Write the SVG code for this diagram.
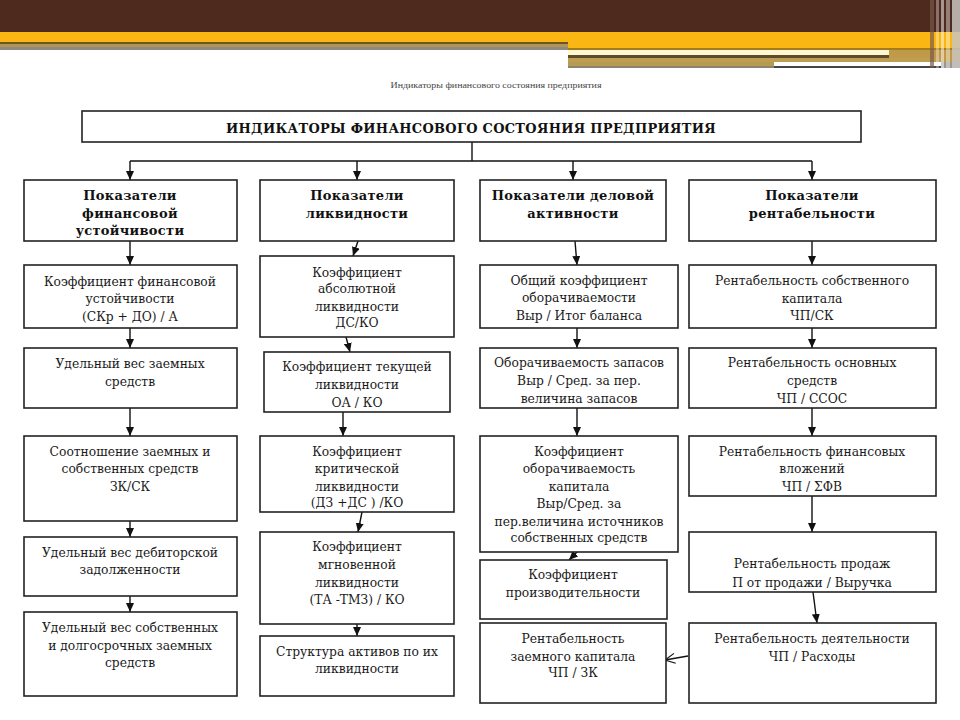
<svg xmlns="http://www.w3.org/2000/svg" width="960" height="720" viewBox="0 0 960 720">
<defs>
<marker id="ah" markerUnits="userSpaceOnUse" markerWidth="9" markerHeight="8" refX="9" refY="4" orient="auto">
<path d="M0,0 L9,4 L0,8 z" fill="#111"/>
</marker>
<marker id="av" markerUnits="userSpaceOnUse" markerWidth="12" markerHeight="12" refX="11" refY="6" orient="auto">
<path d="M1,1 L11,6 L1,11" fill="none" stroke="#111" stroke-width="1.2"/>
</marker>
<style>
.box{fill:#fff;stroke:#222;stroke-width:1.6}
.t{font-family:"DejaVu Serif","Liberation Serif",serif;font-size:12.3px;fill:#1a1a1a;text-anchor:middle}
.h{font-family:"DejaVu Serif","Liberation Serif",serif;font-size:13px;font-weight:bold;fill:#111;text-anchor:middle;letter-spacing:0.3px}
.c{stroke:#111;stroke-width:1.4;fill:none}
</style>
</defs>
<rect width="960" height="720" fill="#fff"/>
<g id="banner">
<rect x="0" y="0" width="960" height="33" fill="#4e291d"/>
<rect x="0" y="32" width="960" height="16" fill="#fab713"/>
<rect x="0" y="42" width="568" height="2" fill="#6b5820"/>
<rect x="0" y="44" width="568" height="3" fill="#b09458"/>
<rect x="0" y="47" width="568" height="3" fill="#8e8a7c"/>
<rect x="568" y="48" width="392" height="2" fill="#a47c1c"/>
<rect x="568" y="50" width="321" height="5" fill="#fff6d2"/>
<rect x="568" y="55" width="321" height="3" fill="#5e4c26"/>
<rect x="889" y="50" width="71" height="12" fill="#c09a48"/>
<rect x="568" y="58" width="373" height="4" fill="#bd9e52"/>
<rect x="568" y="62" width="206" height="5" fill="#b89a50"/>
<rect x="568" y="66" width="206" height="2" fill="#8a8572"/>
<rect x="774" y="62" width="167" height="4" fill="#ffffff"/>
<rect x="774" y="66" width="167" height="2" fill="#454545"/>
<rect x="941" y="62" width="19" height="6" fill="#9a9690"/>
<rect x="930" y="0" width="4" height="68" fill="#7a5a4a" opacity="0.7"/>
<rect x="936" y="0" width="3" height="68" fill="#ffffff" opacity="0.35"/>
<rect x="941" y="0" width="3" height="68" fill="#ffffff" opacity="0.5"/>
<rect x="946" y="0" width="4" height="68" fill="#ffffff" opacity="0.4"/>
<rect x="952" y="0" width="8" height="68" fill="#c8c4c0" opacity="0.85"/>
</g>
<text x="496" y="88" font-family="Liberation Serif, serif" font-size="9" fill="#444" text-anchor="middle" textLength="211" lengthAdjust="spacingAndGlyphs">Индикаторы финансового состояния предприятия</text>

<g id="connectors">
<line class="c" x1="472" y1="142" x2="472" y2="161"/>
<line class="c" x1="130" y1="161" x2="812" y2="161"/>
<line class="c" x1="130" y1="161" x2="130" y2="180" marker-end="url(#ah)"/>
<line class="c" x1="357" y1="161" x2="357" y2="180" marker-end="url(#ah)"/>
<line class="c" x1="573" y1="161" x2="573" y2="180" marker-end="url(#ah)"/>
<line class="c" x1="812" y1="161" x2="812" y2="180" marker-end="url(#ah)"/>
<!-- col1 -->
<line class="c" x1="130" y1="241" x2="130" y2="265" marker-end="url(#ah)"/>
<line class="c" x1="130" y1="328" x2="130" y2="348" marker-end="url(#ah)"/>
<line class="c" x1="130" y1="408" x2="130" y2="436" marker-end="url(#ah)"/>
<line class="c" x1="130" y1="521" x2="130" y2="537" marker-end="url(#ah)"/>
<line class="c" x1="130" y1="596" x2="130" y2="612" marker-end="url(#ah)"/>
<!-- col2 -->
<line class="c" x1="358" y1="241" x2="353" y2="256" marker-end="url(#ah)"/>
<line class="c" x1="346" y1="337" x2="350" y2="352" marker-end="url(#ah)"/>
<line class="c" x1="343" y1="412" x2="343" y2="436" marker-end="url(#ah)"/>
<line class="c" x1="362" y1="512" x2="358" y2="532" marker-end="url(#ah)"/>
<line class="c" x1="357" y1="624" x2="357" y2="636" marker-end="url(#ah)"/>
<!-- col3 -->
<line class="c" x1="575" y1="241" x2="577" y2="265" marker-end="url(#ah)"/>
<line class="c" x1="577" y1="328" x2="577" y2="348" marker-end="url(#ah)"/>
<line class="c" x1="577" y1="408" x2="577" y2="436" marker-end="url(#ah)"/>
<line class="c" x1="577" y1="552" x2="569" y2="560" marker-end="url(#ah)"/>
<line class="c" x1="688" y1="656" x2="665" y2="660" marker-end="url(#av)" stroke-width="1.1"/>
<!-- col4 -->
<line class="c" x1="812" y1="241" x2="812" y2="265" marker-end="url(#ah)"/>
<line class="c" x1="812" y1="328" x2="812" y2="348" marker-end="url(#ah)"/>
<line class="c" x1="812" y1="408" x2="812" y2="436" marker-end="url(#ah)"/>
<line class="c" x1="812" y1="496" x2="812" y2="532" marker-end="url(#ah)"/>
<line class="c" x1="813" y1="592" x2="817" y2="623" marker-end="url(#ah)"/>
</g>

<g id="root">
<rect class="box" x="82" y="111" width="779" height="31"/>
<text class="h" x="471" y="133" font-size="14" textLength="490" lengthAdjust="spacingAndGlyphs">ИНДИКАТОРЫ ФИНАНСОВОГО СОСТОЯНИЯ ПРЕДПРИЯТИЯ</text>
</g>

<g id="h-fin">
<rect class="box" x="24" y="180" width="213" height="61"/>
<text class="h" x="130" y="200">Показатели</text>
<text class="h" x="130" y="218">финансовой</text>
<text class="h" x="130" y="235">устойчивости</text>
</g>
<g id="h-liq">
<rect class="box" x="260" y="180" width="194" height="61"/>
<text class="h" x="357" y="200">Показатели</text>
<text class="h" x="357" y="218">ликвидности</text>
</g>
<g id="h-act">
<rect class="box" x="480" y="180" width="186" height="61"/>
<text class="h" x="573" y="200">Показатели деловой</text>
<text class="h" x="573" y="218">активности</text>
</g>
<g id="h-rent">
<rect class="box" x="689" y="180" width="247" height="61"/>
<text class="h" x="812" y="200">Показатели</text>
<text class="h" x="812" y="218">рентабельности</text>
</g>

<g id="f1">
<rect class="box" x="24" y="265" width="213" height="63"/>
<text class="t" x="130" y="286">Коэффициент финансовой</text>
<text class="t" x="130" y="303">устойчивости</text>
<text class="t" x="130" y="321">(СКр + ДО) / А</text>
</g>
<g id="f2">
<rect class="box" x="24" y="348" width="213" height="60"/>
<text class="t" x="130" y="368">Удельный вес заемных</text>
<text class="t" x="130" y="386">средств</text>
</g>
<g id="f3">
<rect class="box" x="24" y="436" width="213" height="85"/>
<text class="t" x="130" y="456">Соотношение заемных и</text>
<text class="t" x="130" y="473">собственных средств</text>
<text class="t" x="130" y="491">ЗК/СК</text>
</g>
<g id="f4">
<rect class="box" x="24" y="537" width="213" height="59"/>
<text class="t" x="130" y="557">Удельный вес дебиторской</text>
<text class="t" x="130" y="574">задолженности</text>
</g>
<g id="f5">
<rect class="box" x="24" y="612" width="213" height="84"/>
<text class="t" x="130" y="632">Удельный вес собственных</text>
<text class="t" x="130" y="650">и долгосрочных заемных</text>
<text class="t" x="130" y="667">средств</text>
</g>

<g id="l1">
<rect class="box" x="260" y="256" width="194" height="81"/>
<text class="t" x="357" y="277">Коэффициент</text>
<text class="t" x="357" y="293">абсолютной</text>
<text class="t" x="357" y="311">ликвидности</text>
<text class="t" x="357" y="327">ДС/КО</text>
</g>
<g id="l2">
<rect class="box" x="264" y="352" width="186" height="60"/>
<text class="t" x="357" y="371">Коэффициент текущей</text>
<text class="t" x="357" y="389">ликвидности</text>
<text class="t" x="357" y="407">ОА / КО</text>
</g>
<g id="l3">
<rect class="box" x="260" y="436" width="194" height="76"/>
<text class="t" x="357" y="456">Коэффициент</text>
<text class="t" x="357" y="473">критической</text>
<text class="t" x="357" y="491">ликвидности</text>
<text class="t" x="357" y="507">(ДЗ +ДС ) /КО</text>
</g>
<g id="l4">
<rect class="box" x="260" y="532" width="194" height="92"/>
<text class="t" x="357" y="551">Коэффициент</text>
<text class="t" x="357" y="569">мгновенной</text>
<text class="t" x="357" y="587">ликвидности</text>
<text class="t" x="357" y="604">(ТА -ТМЗ) / КО</text>
</g>
<g id="l5">
<rect class="box" x="260" y="636" width="194" height="60"/>
<text class="t" x="357" y="656">Структура активов по их</text>
<text class="t" x="357" y="673">ликвидности</text>
</g>

<g id="a1">
<rect class="box" x="480" y="265" width="198" height="63"/>
<text class="t" x="579" y="285">Общий коэффициент</text>
<text class="t" x="579" y="302">оборачиваемости</text>
<text class="t" x="579" y="320">Выр / Итог баланса</text>
</g>
<g id="a2">
<rect class="box" x="480" y="348" width="198" height="60"/>
<text class="t" x="579" y="367">Оборачиваемость запасов</text>
<text class="t" x="579" y="385">Выр / Сред. за пер.</text>
<text class="t" x="579" y="403">величина запасов</text>
</g>
<g id="a3">
<rect class="box" x="480" y="436" width="198" height="116"/>
<text class="t" x="579" y="456">Коэффициент</text>
<text class="t" x="579" y="473">оборачиваемость</text>
<text class="t" x="579" y="491">капитала</text>
<text class="t" x="579" y="508">Выр/Сред. за</text>
<text class="t" x="579" y="526">пер.величина источников</text>
<text class="t" x="579" y="542">собственных средств</text>
</g>
<g id="a4">
<rect class="box" x="480" y="560" width="187" height="59"/>
<text class="t" x="573" y="579">Коэффициент</text>
<text class="t" x="573" y="597">производительности</text>
</g>
<g id="a5">
<rect class="box" x="480" y="623" width="186" height="80"/>
<text class="t" x="573" y="643">Рентабельность</text>
<text class="t" x="573" y="661">заемного капитала</text>
<text class="t" x="573" y="677">ЧП / ЗК</text>
</g>

<g id="r1">
<rect class="box" x="689" y="265" width="247" height="63"/>
<text class="t" x="812" y="285">Рентабельность собственного</text>
<text class="t" x="812" y="303">капитала</text>
<text class="t" x="812" y="320">ЧП/СК</text>
</g>
<g id="r2">
<rect class="box" x="689" y="348" width="247" height="60"/>
<text class="t" x="812" y="367">Рентабельность основных</text>
<text class="t" x="812" y="385">средств</text>
<text class="t" x="812" y="403">ЧП / ССОС</text>
</g>
<g id="r3">
<rect class="box" x="689" y="436" width="247" height="60"/>
<text class="t" x="812" y="456">Рентабельность финансовых</text>
<text class="t" x="812" y="473">вложений</text>
<text class="t" x="812" y="491">ЧП / ΣФВ</text>
</g>
<g id="r4">
<rect class="box" x="689" y="532" width="247" height="60"/>
<text class="t" x="812" y="568">Рентабельность продаж</text>
<text class="t" x="812" y="587">П от продажи / Выручка</text>
</g>
<g id="r5">
<rect class="box" x="689" y="623" width="247" height="80"/>
<text class="t" x="812" y="643">Рентабельность деятельности</text>
<text class="t" x="812" y="661">ЧП / Расходы</text>
</g>
</svg>
